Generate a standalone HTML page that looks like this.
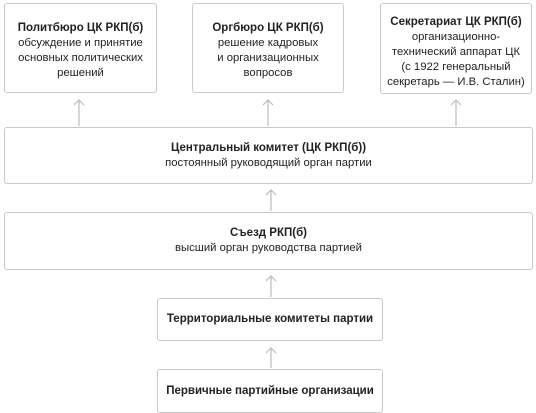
<!DOCTYPE html>
<html><head><meta charset="utf-8"><style>
body{margin:0;width:536px;height:409px;background:#fff;position:relative;overflow:hidden;font-family:"Liberation Sans","DejaVu Sans",sans-serif;color:#222;}
.b{position:absolute;box-sizing:border-box;border:1.3px solid #c8c8c8;border-radius:3px;background:#fff;display:flex;flex-direction:column;justify-content:center;align-items:center;text-align:center;font-size:11.3px;line-height:15px;}
.b b{font-size:11.5px;}
svg{position:absolute;left:0;top:0;}
</style></head><body>
<svg width="536" height="409" stroke="#bbb" stroke-width="1.2" fill="none">
<path d="M79 126V100M74 105L79 100L84 105"/>
<path d="M268 126V100M263 105L268 100L273 105"/>
<path d="M456 126V100M451 105L456 100L461 105"/>
<path d="M271 211V190M266 195L271 190L276 195"/>
<path d="M271 297V276M266 281L271 276L276 281"/>
<path d="M271 368V348M266 353L271 348L276 353"/>
</svg>
<div class="b" style="left:4px;top:3px;width:153px;height:90px;justify-content:flex-start;padding-top:17px"><b>Политбюро ЦК РКП(б)</b>обсуждение и принятие<br>основных политических<br>решений</div>
<div class="b" style="left:192px;top:3px;width:152px;height:90px;justify-content:flex-start;padding-top:17px"><b>Оргбюро ЦК РКП(б)</b>решение кадровых<br>и организационных<br>вопросов</div>
<div class="b" style="left:380px;top:3px;width:152px;height:91px;justify-content:flex-start;padding-top:11px"><b>Секретариат ЦК РКП(б)</b>организационно-<br>технический аппарат ЦК<br>(с 1922 генеральный<br>секретарь — И.В. Сталин)</div>
<div class="b" style="left:4px;top:127px;width:529px;height:57px"><b>Центральный комитет (ЦК РКП(б))</b>постоянный руководящий орган партии</div>
<div class="b" style="left:4px;top:212px;width:529px;height:58px"><b>Съезд РКП(б)</b>высший орган руководства партией</div>
<div class="b" style="left:157px;top:298px;width:226px;height:43px"><b>Территориальные комитеты партии</b></div>
<div class="b" style="left:157px;top:369px;width:226px;height:44px"><b>Первичные партийные организации</b></div>
</body></html>
